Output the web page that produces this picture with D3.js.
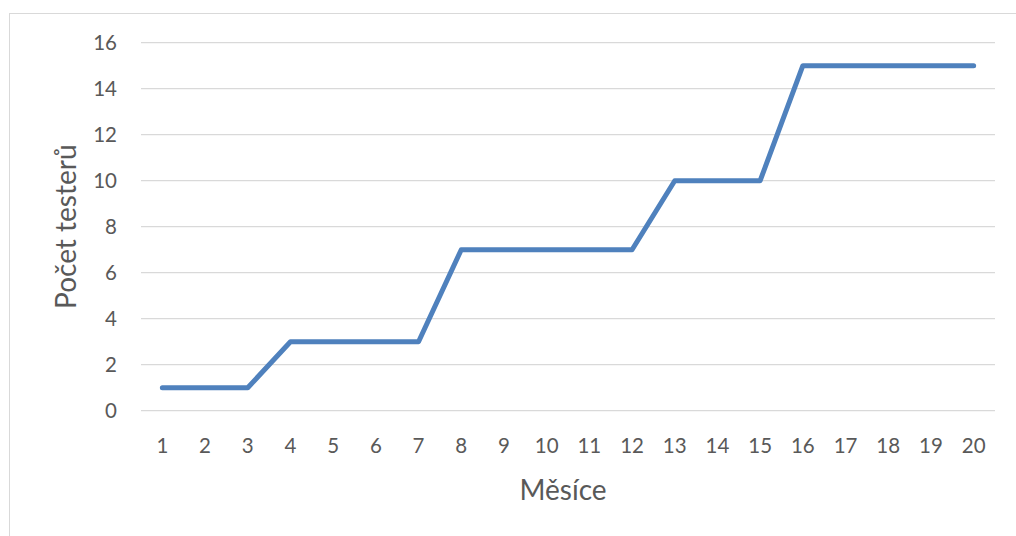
<!DOCTYPE html>
<html>
<head>
<meta charset="utf-8">
<script src="https://cdn.jsdelivr.net/npm/d3@7"></script>
<style>
  body { margin: 0; background: #fff; }
  text { font-family: Lato, "Open Sans", sans-serif; fill: #595959; }
</style>
</head>
<body>
<svg id="chart" width="1016" height="536"></svg>
<script>
const months = d3.range(1, 21).map(String)
const testers = [1, 1, 1, 3, 3, 3, 3, 7, 7, 7, 7, 7, 10, 10, 10, 15, 15, 15, 15, 15]
const yTicks = [0, 2, 4, 6, 8, 10, 12, 14, 16]

const svg = d3.select('#chart')
const plot = { left: 141, right: 995, top: 42.7, bottom: 410.7 }

// chart frame (runs off the right/bottom edge like the original)
svg.append('rect')
  .attr('x', 9.5).attr('y', 13.5)
  .attr('width', 1030).attr('height', 560)
  .attr('fill', '#fff').attr('stroke', '#d9d9d9')

const x = d3.scaleBand().domain(months).range([plot.left, plot.right])
const y = d3.scaleLinear().domain([0, 16]).range([plot.bottom, plot.top])

// gridlines
svg.append('g').selectAll('line').data(yTicks).join('line')
  .attr('x1', plot.left).attr('x2', plot.right)
  .attr('y1', d => y(d)).attr('y2', d => y(d))
  .attr('stroke', '#d9d9d9').attr('stroke-width', 1.3)

// y tick labels
svg.append('g').selectAll('text').data(yTicks).join('text')
  .attr('x', 117).attr('y', d => y(d))
  .attr('text-anchor', 'end').attr('dy', '0.35em')
  .style('font-size', '20.5px')
  .text(d => d)

// x tick labels
svg.append('g').selectAll('text').data(months).join('text')
  .attr('x', d => x(d) + x.bandwidth() / 2).attr('y', 446)
  .attr('text-anchor', 'middle').attr('dy', '0.35em')
  .style('font-size', '20.5px')
  .text(d => d)

// series line
const line = d3.line()
  .x((d, i) => x(months[i]) + x.bandwidth() / 2)
  .y(d => y(d))

svg.append('path').datum(testers)
  .attr('d', line)
  .attr('fill', 'none')
  .attr('stroke', '#4f81bd')
  .attr('stroke-width', 5)
  .attr('stroke-linecap', 'round')
  .attr('stroke-linejoin', 'round')

// axis titles
svg.append('text')
  .attr('x', (plot.left + plot.right) / 2 - 5).attr('y', 490)
  .attr('text-anchor', 'middle').attr('dy', '0.35em')
  .style('font-size', '28px')
  .text('Měsíce')

svg.append('text')
  .attr('transform', `translate(66, ${(plot.top + plot.bottom) / 2}) rotate(-90)`)
  .attr('text-anchor', 'middle').attr('dy', '0.35em')
  .style('font-size', '28px')
  .text('Počet testerů')
</script>
</body>
</html>
